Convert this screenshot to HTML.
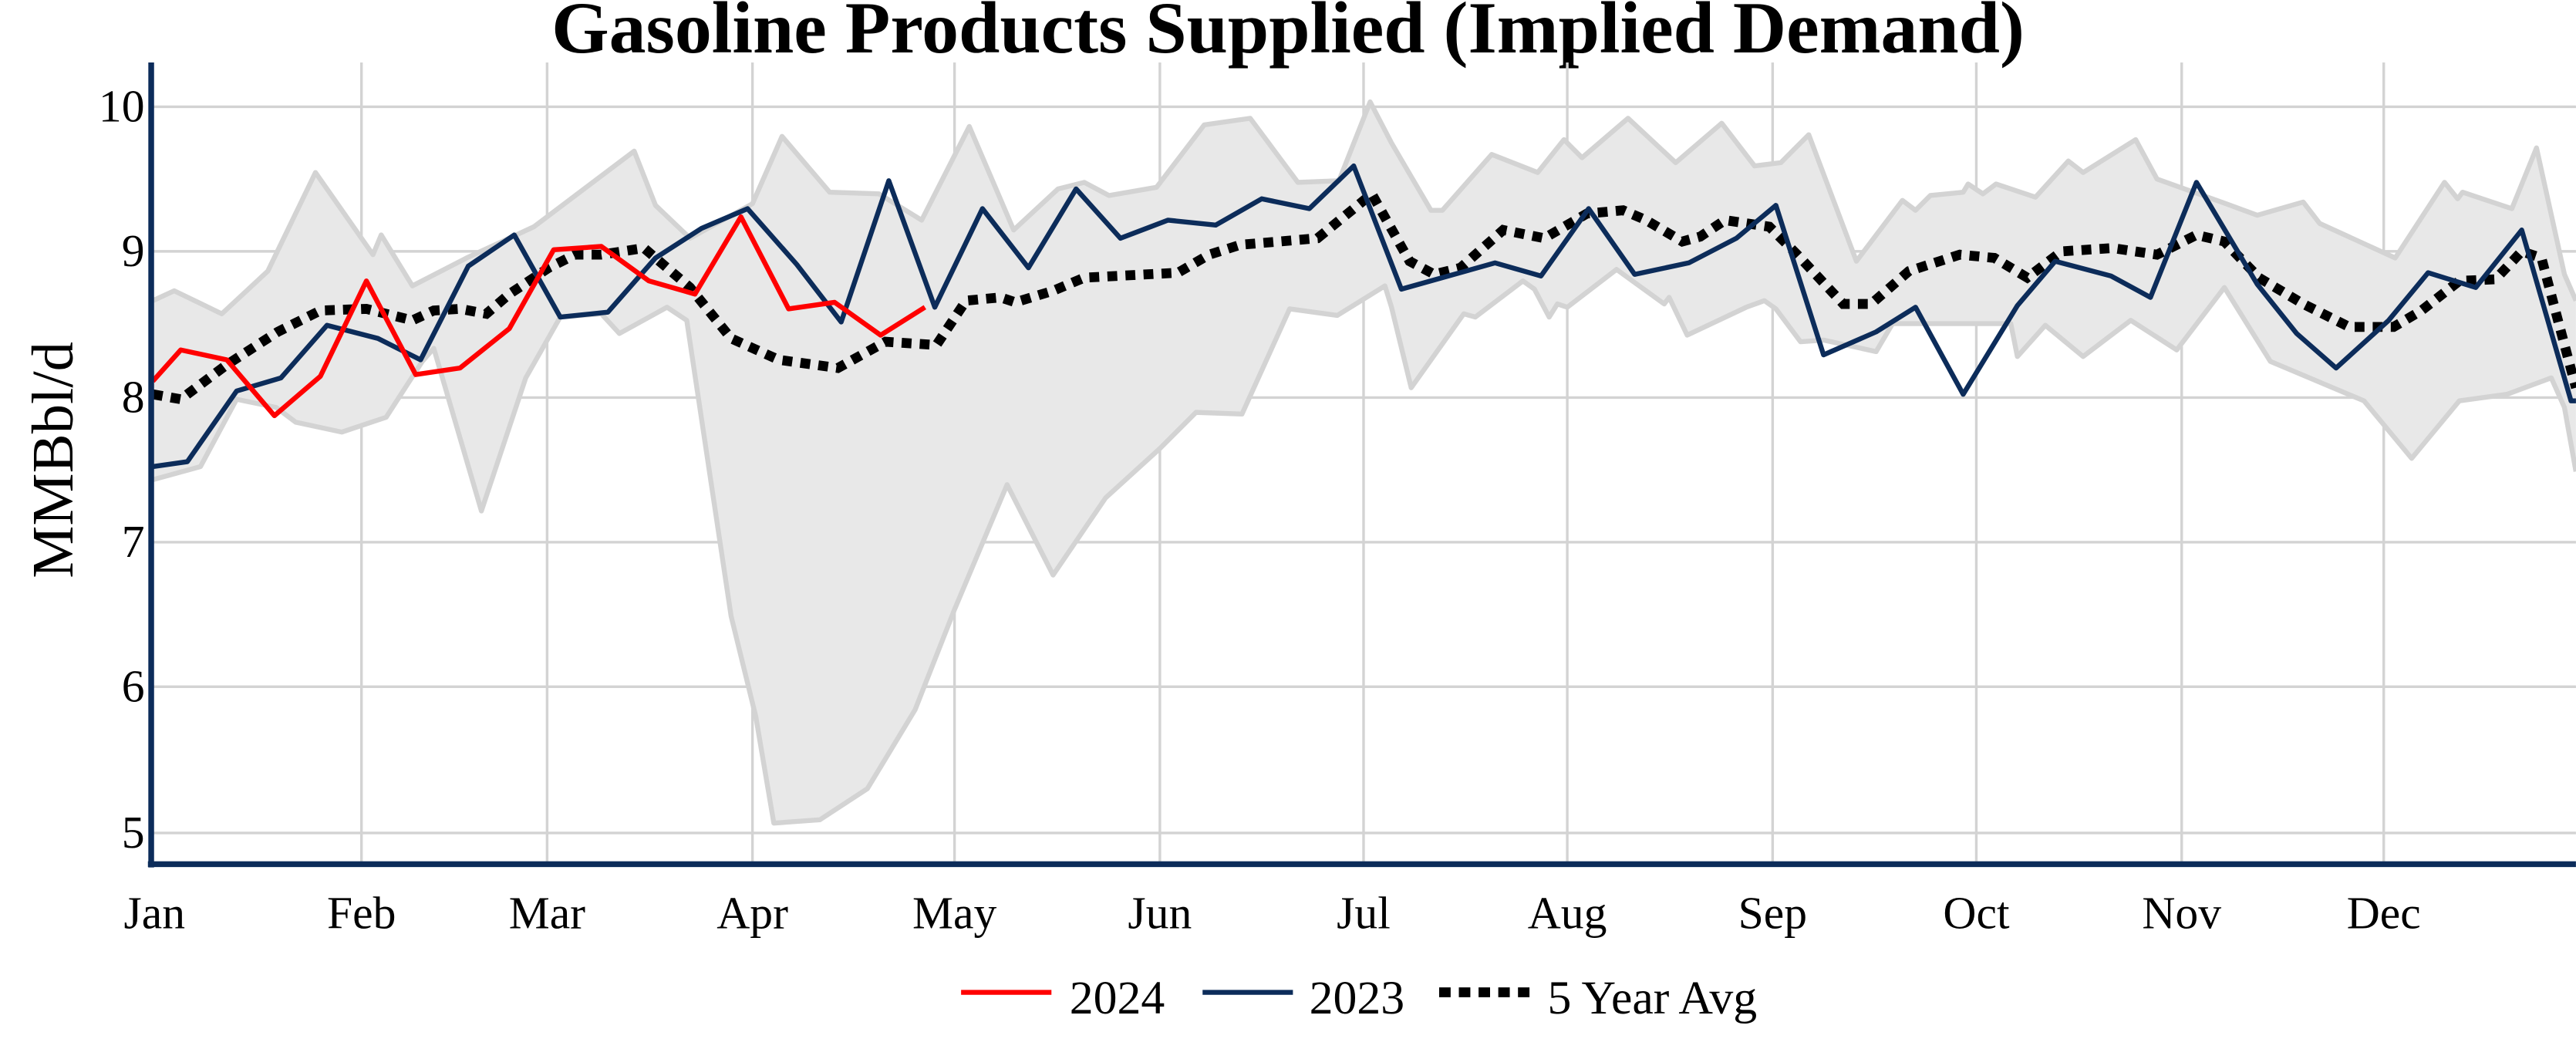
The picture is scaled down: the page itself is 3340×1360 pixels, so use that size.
<!DOCTYPE html>
<html><head><meta charset="utf-8"><style>
html,body{margin:0;padding:0;background:#fff;}
svg{display:block;}
text{font-family:"Liberation Serif",serif;fill:#000;}
</style></head><body>
<svg width="3340" height="1360" viewBox="0 0 1568 638.5" xmlns="http://www.w3.org/2000/svg">
<rect width="1568" height="638.5" fill="#fff"/>
<text x="784" y="32" text-anchor="middle" font-size="45" font-weight="bold">Gasoline Products Supplied (Implied Demand)</text>
<g stroke="#d3d3d3" stroke-width="1.6">
<line x1="92" x2="1568" y1="65" y2="65"/><line x1="92" x2="1568" y1="153" y2="153"/><line x1="92" x2="1568" y1="242" y2="242"/><line x1="92" x2="1568" y1="330" y2="330"/><line x1="92" x2="1568" y1="418" y2="418"/><line x1="92" x2="1568" y1="507" y2="507"/>
<line x1="220" x2="220" y1="38" y2="526"/><line x1="333" x2="333" y1="38" y2="526"/><line x1="458" x2="458" y1="38" y2="526"/><line x1="581" x2="581" y1="38" y2="526"/><line x1="706" x2="706" y1="38" y2="526"/><line x1="830" x2="830" y1="38" y2="526"/><line x1="954" x2="954" y1="38" y2="526"/><line x1="1079" x2="1079" y1="38" y2="526"/><line x1="1203" x2="1203" y1="38" y2="526"/><line x1="1328" x2="1328" y1="38" y2="526"/><line x1="1451" x2="1451" y1="38" y2="526"/>
</g>
<polygon fill="#e8e8e8" stroke="none" points="93,183 106,177 135,191 163,165 192,105 227,155 232,143 251,174 284,157 325,138 386,92 399,125 420,145 458,124 476,83 505,117 535,118 561,134 590,77 617,140 644,115 660,111 675,119 704,114 733,76 761,72 790,111 815,110 834,62 847,87 871,128 878,128 908,94 936,105 952,85 963,96 991,72 1020,99 1048,75 1068,101 1084,99 1101,82 1130,159 1158,122 1166,128 1175,119 1195,117 1198,112 1207,118 1215,112 1239,120 1259,98 1268,105 1300,85 1313,109 1355,124 1374,131 1402,123 1412,136 1458,157 1488,111 1496,121 1499,117 1529,127 1544,90 1561,167 1568,183 1568,287 1561,248 1553,230 1526,240 1497,244 1468,279 1439,244 1382,220 1354,175 1325,213 1297,195 1268,217 1245,198 1228,217 1224,197 1168,197 1152,197 1142,214 1110,207 1096,208 1081,188 1074,183 1033,202 1027,204 1016,181 1013,185 984,164 954,187 948,185 943,193 934,176 927,171 898,193 891,191 859,236 847,187 843,174 814,192 785,188 756,252 728,251 706,273 673,303 641,350 613,295 581,371 557,432 528,480 499,499 471,501 460,436 445,375 418,195 406,187 377,203 366,191 341,193 320,230 293,311 264,212 257,220 235,254 208,263 180,257 168,248 144,243 122,284 93,292"/>
<g fill="none" stroke="#d3d3d3" stroke-width="3" stroke-linejoin="round">
<polyline points="93,183 106,177 135,191 163,165 192,105 227,155 232,143 251,174 284,157 325,138 386,92 399,125 420,145 458,124 476,83 505,117 535,118 561,134 590,77 617,140 644,115 660,111 675,119 704,114 733,76 761,72 790,111 815,110 834,62 847,87 871,128 878,128 908,94 936,105 952,85 963,96 991,72 1020,99 1048,75 1068,101 1084,99 1101,82 1130,159 1158,122 1166,128 1175,119 1195,117 1198,112 1207,118 1215,112 1239,120 1259,98 1268,105 1300,85 1313,109 1355,124 1374,131 1402,123 1412,136 1458,157 1488,111 1496,121 1499,117 1529,127 1544,90 1561,167 1568,183"/>
<polyline points="93,292 122,284 144,243 168,248 180,257 208,263 235,254 257,220 264,212 293,311 320,230 341,193 366,191 377,203 406,187 418,195 445,375 460,436 471,501 499,499 528,480 557,432 581,371 613,295 641,350 673,303 706,273 728,251 756,252 785,188 814,192 843,174 847,187 859,236 891,191 898,193 927,171 934,176 943,193 948,185 954,187 984,164 1013,185 1016,181 1027,204 1063,187 1074,183 1081,188 1096,208 1110,207 1142,214 1152,197 1168,197 1224,197 1228,217 1245,198 1268,217 1297,195 1325,213 1354,175 1382,220 1439,244 1468,279 1497,244 1526,240 1553,230 1561,248 1568,287"/>
</g>
<polyline fill="none" stroke="#000" stroke-width="6" stroke-dasharray="6,5" points="93,240 110,243 138,222 169,202 195,189 223,188 251,195 264,189 280,188 296,191 310,179 334,163 350,155 366,155 392,151 420,175 445,206 474,219 510,224 539,208 570,210 588,183 609,181 618,184 641,177 660,169 717,166 736,155 755,149 802,145 835,118 858,159 873,167 889,163 915,140 940,145 966,130 988,128 1002,134 1024,147 1035,144 1050,134 1077,138 1094,155 1122,185 1139,185 1162,165 1193,155 1214,157 1234,169 1255,153 1286,151 1313,155 1337,143 1354,147 1375,169 1402,185 1430,199 1457,199 1474,189 1497,171 1519,170 1535,153 1547,157 1556,191 1568,236"/>
<polyline fill="none" stroke="#0c2c5a" stroke-width="3" stroke-linejoin="round" points="93,284 114,281 144,238 171,230 199,198 230,206 256,219 285,162 313,143 341,193 370,190 399,157 427,139 455,127 485,161 512,196 541,110 569,187 598,127 626,163 655,115 682,145 711,134 740,137 768,121 797,127 824,101 853,176 910,160 938,168 967,127 995,167 1028,160 1057,145 1081,125 1110,216 1142,202 1166,187 1195,240 1228,186 1251,159 1285,168 1309,181 1337,111 1374,173 1398,203 1422,224 1454,195 1478,166 1507,175 1535,140 1565,244 1568,244"/>
<polyline fill="none" stroke="#ff0000" stroke-width="3" stroke-linejoin="round" points="93,232 110,213 138,219 167,253 195,229 223,171 253,228 280,224 310,200 337,152 366,150 395,171 423,179 451,132 480,188 508,184 536,204 563,187"/>
<line x1="92" x2="92" y1="38" y2="528" stroke="#0c2c5a" stroke-width="3.5"/>
<line x1="90" x2="1568" y1="526" y2="526" stroke="#0c2c5a" stroke-width="3.5"/>
<g font-size="28" text-anchor="end">
<text x="88" y="74">10</text><text x="88" y="162">9</text><text x="88" y="251">8</text><text x="88" y="339">7</text><text x="88" y="427">6</text><text x="88" y="516">5</text>
</g>
<text transform="translate(44,280) rotate(-90)" text-anchor="middle" font-size="36">MMBbl/d</text>
<g font-size="28" text-anchor="middle">
<text x="94" y="565">Jan</text><text x="220" y="565">Feb</text><text x="333" y="565">Mar</text><text x="458" y="565">Apr</text><text x="581" y="565">May</text><text x="706" y="565">Jun</text><text x="830" y="565">Jul</text><text x="954" y="565">Aug</text><text x="1079" y="565">Sep</text><text x="1203" y="565">Oct</text><text x="1328" y="565">Nov</text><text x="1451" y="565">Dec</text>
</g>
<line x1="585" x2="640" y1="604" y2="604" stroke="#ff0000" stroke-width="3"/>
<text x="651" y="617" font-size="29">2024</text>
<line x1="732" x2="787" y1="604" y2="604" stroke="#0c2c5a" stroke-width="3"/>
<text x="797" y="617" font-size="29">2023</text>
<line x1="876" x2="932" y1="604" y2="604" stroke="#000" stroke-width="6" stroke-dasharray="7,5"/>
<text x="942" y="617" font-size="29">5 Year Avg</text>
</svg>
</body></html>
